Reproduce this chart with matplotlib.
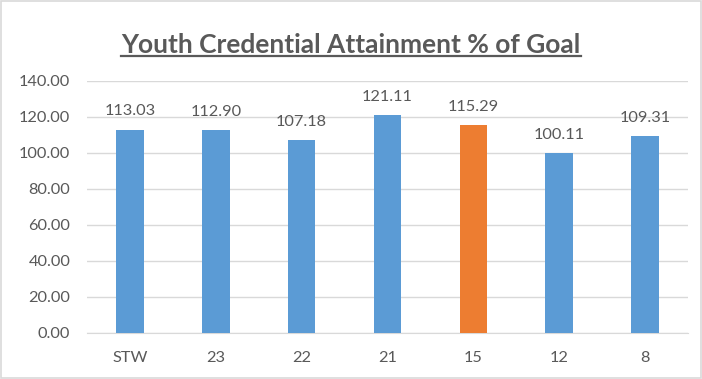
import matplotlib.pyplot as plt
from matplotlib.patches import Rectangle

categories = ["STW", "23", "22", "21", "15", "12", "8"]
values = [113.03, 112.90, 107.18, 121.11, 115.29, 100.11, 109.31]
highlight = "15"
yticks = [0, 20, 40, 60, 80, 100, 120, 140]

plt.rcParams['font.family'] = ['Lato', 'DejaVu Sans']
txt = "#595959"
fs = 11.8

fig = plt.figure(figsize=(7.02, 3.79), dpi=100)
ax = fig.add_axes([87/702, 1 - 333/379, (688-87)/702, (333-81)/379])

colors = ["#ED7D31" if c == highlight else "#5B9BD5" for c in categories]
x = range(len(categories))
bars = ax.bar(x, values, width=0.32, color=colors, zorder=3)
for xi, v in zip(x, values):
    ax.annotate(f"{v:.2f}", (xi, v), xytext=(0, 8), textcoords="offset points",
                ha="center", va="bottom", fontsize=fs, color=txt)

ax.set_xlim(-0.5, len(categories) - 0.5)
ax.set_ylim(0, 140)
ax.set_yticks(yticks)
ax.set_yticklabels([f"{t:.2f}" for t in yticks], fontsize=fs, color=txt)
ax.set_xticks(list(x))
ax.set_xticklabels(categories, fontsize=fs, color=txt)
ax.tick_params(length=0)
ax.tick_params(axis="y", pad=12)
ax.tick_params(axis="x", pad=13)
ax.grid(axis="y", color="#D9D9D9", lw=1, zorder=0)
for s in ["top", "right", "left"]:
    ax.spines[s].set_visible(False)
ax.spines["bottom"].set_color("#D9D9D9")

fig.text(0.5, 1 - 45/379, "Youth Credential Attainment % of Goal", ha="center", va="center",
         fontsize=19, fontweight="bold", color=txt)
t = fig.texts[0]
fig.canvas.draw()
bb = t.get_window_extent()
fig.add_artist(plt.Line2D([bb.x0/702, bb.x1/702], [(bb.y0 + 1)/379]*2, color=txt, lw=1.6))

fig.add_artist(Rectangle((0.002, 0.003), 0.996, 0.994, fill=False, edgecolor="#D9D9D9", lw=1.2,
                         transform=fig.transFigure))
fig.savefig("out.png", dpi=100)
